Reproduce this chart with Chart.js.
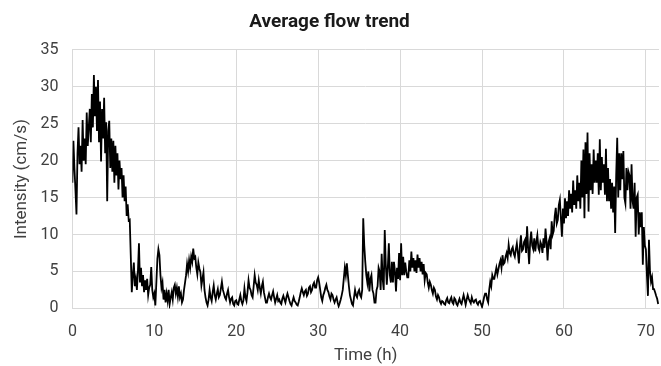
<!DOCTYPE html>
<html>
<head>
<meta charset="utf-8">
<script src="https://cdn.jsdelivr.net/npm/chart.js@4.4.1/dist/chart.umd.min.js"></script>
<style>
  html, body { margin: 0; padding: 0; background: #fff; }
  #wrap { width: 661px; height: 366px; position: relative; }
</style>
</head>
<body>
<div id="wrap"><canvas id="flow-chart"></canvas></div>
<script>
(function () {
  'use strict';

  // readings every 1/8 hour (cm/s), one row per hour
  const sampleStepHours = 0.125;
  const intensity = [
    17, 22.7, 19, 16, 12.7, 21, 24.5, 19.5,        // 0 h
    22, 18.5, 25.5, 20, 23, 19.5, 26.5, 22,        // 1
    24.5, 27, 22.5, 29, 24.5, 31.6, 26, 30,        // 2
    24, 30.9, 22.5, 28, 19.9, 27, 23, 28.5,        // 3
    21, 25.2, 14.5, 24, 25.4, 19, 23, 18.5,        // 4
    22.7, 17, 22, 18, 21, 16.1, 20, 17.5,          // 5
    19, 15, 18, 14.5, 16.5, 12.5, 14.1, 11.9,      // 6
    12, 7.2, 2.2, 4.5, 6.2, 3, 4, 2.5,             // 7
    5, 8.8, 3.5, 5.5, 3, 4.5, 2.2, 3.8,            // 8
    2.5, 4, 1.8, 2.8, 3.2, 5.6, 2.5, 1.5,          // 9
    2, 0.4, 3.5, 6.7, 8, 7.2, 4.5, 2.8,            // 10
    3.5, 1.2, 2.5, 0.8, 2, 1, 2.5, 0.6,            // 11
    1.5, 2.2, 1.2, 2.8, 3.2, 2, 2.8, 1.6,          // 12
    3, 1.5, 2, 0.8, 1.2, 2.5, 3.5, 4.5,            // 13
    6, 5, 6.5, 5.5, 7, 6.3, 8.1, 6.8,              // 14
    7, 5.5, 4.6, 6.2, 5.4, 4.9, 3.1, 4,            // 15
    4.9, 2.5, 1.5, 0.8, 0.4, 1.2, 2.5, 1.5,        // 16
    1, 2.2, 3.1, 1.8, 1.2, 2, 2.6, 1.5,            // 17
    1.8, 2.7, 3.6, 2.5, 2, 1.5, 1.2, 2,            // 18
    2.5, 1.5, 0.8, 1.3, 1.5, 0.6, 0.4, 1,          // 19
    1.1, 0.6, 0.5, 1.2, 1.8, 1, 0.6, 1.1,          // 20
    2.7, 1.5, 1, 2.2, 3.8, 2.8, 2.5, 1.8,          // 21
    1.5, 3, 4.5, 3.5, 3.2, 2.5, 3.8, 2.8,          // 22
    2, 3, 3.6, 2.2, 1.5, 0.8, 0.8, 1.5,            // 23
    2, 1.5, 1.2, 1.8, 2.3, 1.5, 0.8, 1.3,          // 24
    1.8, 1, 1.2, 0.8, 0.6, 1.3, 1.7, 1.2,          // 25
    0.8, 1.5, 2, 1.5, 1, 0.6, 0.4, 1,              // 26
    1.5, 1, 0.8, 0.5, 0.4, 0.9, 1.5, 2.2,          // 27
    2.7, 2.2, 1.8, 2.3, 2.5, 1.7, 2, 2.8,          // 28
    3, 2.2, 2.5, 3.2, 3.5, 2.8, 2.8, 3.8,          // 29
    4.2, 3.5, 2.5, 1.5, 1, 1.8, 2.2, 2.8,          // 30
    3.2, 2.5, 2.2, 1.6, 1.2, 2, 1.8, 1.2,          // 31
    0.8, 1.2, 1.5, 0.8, 0.3, 0.7, 1.2, 1.8,        // 32
    2.5, 4, 5.5, 4.5, 6.1, 4.5, 3, 1.8,            // 33
    1.2, 0.6, 0.4, 1.5, 2.5, 1.8, 1.5, 2.2,        // 34
    2.5, 1.8, 1.5, 2.5, 12.2, 8.5, 6.3, 4.5,       // 35
    3.5, 5, 2.3, 4, 4.5, 2.5, 2, 0.8,              // 36
    0.8, 2.5, 3, 5.5, 5, 2.5, 7.4, 4,              // 37
    2.5, 10.6, 6, 3.2, 5.5, 8.8, 4.5, 3.5,         // 38
    6.3, 3.5, 6.3, 5, 2.3, 5.5, 4, 7.5,            // 39
    3.8, 8.8, 4.5, 7, 4.5, 6.2, 5, 4.2,            // 40
    4.2, 6.5, 5, 7.7, 5.5, 6.8, 5, 6.5,            // 41
    4.8, 7.3, 5.5, 6.8, 5, 6.3, 4.6, 6,            // 42
    3.8, 4.8, 4.6, 3.5, 2.8, 3.6, 3.2, 2.5,        // 43
    2, 2.8, 2.5, 1.6, 1.2, 1.8, 1.5, 0.9,          // 44
    0.6, 1, 0.9, 0.6, 0.5, 1.1, 1.4, 0.8,          // 45
    0.7, 1.2, 1.5, 0.8, 0.6, 1.4, 1.2, 0.6,        // 46
    0.4, 0.9, 1.3, 0.8, 0.6, 1.2, 1.8, 1.2,        // 47
    0.5, 1.2, 1.8, 1.3, 1, 0.7, 1.5, 1,            // 48
    0.8, 1.1, 1.2, 0.7, 0.5, 0.9, 1, 0.6,          // 49
    0.2, 0.8, 1.5, 2, 2, 1.2, 0.8, 2.5,            // 50
    3.6, 3, 4.5, 4, 4, 4.8, 5.5, 4.6,              // 51
    5.3, 6, 6.5, 5.5, 7.2, 6, 6.2, 7,              // 52
    7.5, 6.8, 8.6, 7.5, 7.2, 8, 8.3, 7.4,          // 53
    7, 8, 8.8, 7.5, 6.1, 8.5, 9.9, 7.8,            // 54
    8, 9, 9.3, 7.5, 11.1, 8.2, 6, 9,               // 55
    10.4, 8.5, 8, 9.5, 7.7, 9, 9.9, 8.2,           // 56
    7.8, 9, 8.6, 7.5, 9.5, 8.2, 10.8, 9,           // 57
    6.5, 9, 9.5, 8, 11.8, 10, 10.5, 12.5,          // 58
    13.6, 11.5, 12, 14, 14.7, 12.2, 9.7, 13.5,     // 59
    11.5, 14.9, 12.2, 14.5, 12.5, 16, 13.5, 15.5,  // 60
    13, 17.3, 14, 16, 13.5, 18, 14.5, 17,          // 61
    13.5, 20, 15, 21.5, 12.2, 22.5, 15.5, 23.8,    // 62
    13.1, 21, 16, 19.5, 15.5, 21.5, 17, 20,        // 63
    17, 21, 15.4, 22.9, 16, 20.5, 17, 19.5,        // 64
    15.4, 21.6, 14.5, 19, 14.5, 17.5, 13.5, 17,    // 65
    13, 16.5, 10.2, 18, 23.1, 15, 21, 16,          // 66
    21, 17.5, 21.3, 15, 14.2, 19, 16, 18.5,        // 67
    18, 13.5, 19.5, 14.5, 13.5, 17, 9.7, 15,       // 68
    15.4, 10, 13, 11, 13, 5.9, 11, 8.5,            // 69
    8, 4.5, 1.7, 9.3, 5, 3.6, 4.2, 2.6,            // 70
    2.6, 2.2, 1.7, 1.3, 0.6                        // 71
  ];

  const timeTicks = [0, 10, 20, 30, 40, 50, 60, 70];
  const intensityTicks = [0, 5, 10, 15, 20, 25, 30, 35];

  const points = intensity.map((v, i) => ({ x: i * sampleStepHours, y: v }));

  const gridColor = '#d9d9d9';
  const textColor = '#404040';
  const family = 'Roboto, "Liberation Sans", sans-serif';

  const canvas = document.getElementById('flow-chart');
  new Chart(canvas, {
    type: 'line',
    data: {
      datasets: [
        {
          label: 'Average flow',
          data: points,
          borderColor: '#000000',
          borderWidth: 1.8,
          pointRadius: 0,
          tension: 0,
          fill: false
        }
      ]
    },
    options: {
      responsive: true,
      maintainAspectRatio: false,
      animation: false,
      layout: {
        padding: { left: 0, right: 2, top: 0, bottom: 0 }
      },
      plugins: {
        legend: { display: false },
        tooltip: { enabled: false },
        title: {
          display: true,
          text: 'Average flow trend',
          color: '#1a1a1a',
          font: { family: family, size: 19, weight: 'bold' },
          padding: { top: 11, bottom: 16 }
        }
      },
      scales: {
        x: {
          type: 'linear',
          min: 0,
          max: 71.6,
          afterBuildTicks: function (scale) {
            scale.ticks = timeTicks.map(v => ({ value: v }));
          },
          afterFit: function (scale) {
            // the 70 label fits inside the plot, no extra room needed on the right
            scale.paddingRight = 0;
          },
          grid: { color: gridColor, drawTicks: false },
          border: { color: gridColor },
          ticks: {
            autoSkip: false,
            maxRotation: 0,
            padding: 14,
            color: textColor,
            font: { family: family, size: 16 }
          },
          title: {
            display: true,
            text: 'Time (h)',
            color: textColor,
            font: { family: family, size: 17 },
            padding: { top: -10, bottom: 0 }
          }
        },
        y: {
          min: 0,
          max: 35,
          afterBuildTicks: function (scale) {
            scale.ticks = intensityTicks.map(v => ({ value: v }));
          },
          grid: { color: gridColor, drawTicks: false },
          border: { display: false },
          ticks: {
            autoSkip: false,
            padding: 14,
            color: textColor,
            font: { family: family, size: 16 }
          },
          title: {
            display: true,
            text: 'Intensity (cm/s)',
            color: textColor,
            font: { family: family, size: 17 },
            padding: { top: 12, bottom: -6 }
          }
        }
      }
    }
  });
})();
</script>
</body>
</html>
